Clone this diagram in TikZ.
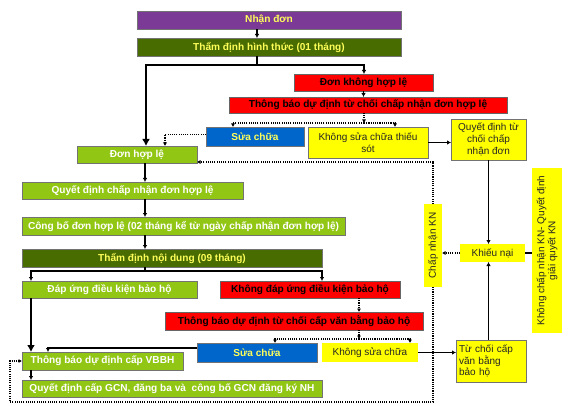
\documentclass[tikz,border=0pt]{standalone}
\usepackage{fontspec}
\setmainfont{Liberation Sans}
\usetikzlibrary{arrows.meta}
\definecolor{cpurple}{RGB}{122,58,150}
\definecolor{cdkgreen}{RGB}{72,108,0}
\definecolor{cltgreen}{RGB}{146,198,20}
\definecolor{cred}{RGB}{255,0,0}
\definecolor{cblue}{RGB}{0,102,204}
\definecolor{cyellow}{RGB}{255,255,0}
\definecolor{ctxtyellow}{RGB}{255,255,90}
\begin{document}
\begin{tikzpicture}[x=1pt,y=-1pt,
  font=\fontsize{10}{12.8}\selectfont,
  base/.style={inner sep=0pt, outer sep=0pt, align=center},
  bx/.style={base, draw=black!55, line width=0.6pt},
  bfont/.style={font=\fontsize{10.1}{12}\selectfont\bfseries},
  purplebox/.style={bx, fill=cpurple, text=ctxtyellow, bfont},
  dkbox/.style={bx, fill=cdkgreen, text=ctxtyellow, bfont},
  ltbox/.style={bx, fill=cltgreen, text=white, bfont},
  redbox/.style={bx, draw=black!60, fill=cred, text=black, bfont},
  bluebox/.style={bx, fill=cblue, text=ctxtyellow, bfont},
  ybox/.style={bx, fill=cyellow, text=black!85},
  ynob/.style={base, fill=cyellow, text=black!85},
  arr/.style={line width=1.1pt, -{Latex[length=4pt,width=4.5pt]}},
  bigarr/.style={line width=1.8pt, -{Latex[length=7pt,width=8pt]}},
  plain/.style={line width=1.1pt},
  dotl/.style={line width=1.1pt, dash pattern=on 1.1pt off 1.1pt},
  dotarr/.style={dotl, -{Latex[length=3.5pt,width=4pt]}}
]
\useasboundingbox (0,0) rectangle (583,406);

% boxes
\node[purplebox, minimum width=264, minimum height=18] (nhan) at (269,20) {Nhận đơn};
\node[dkbox, minimum width=264, minimum height=18] (thamhinh) at (269,47) {Thẩm định hình thức (01 tháng)};
\node[redbox, minimum width=139, minimum height=17] (khonghople) at (363.5,82.5) {Đơn không hợp lệ};
\node[redbox, minimum width=278, minimum height=16] (tbtuchoi1) at (368,105) {Thông báo dự định từ chối chấp nhận đơn hợp lệ};
\node[bluebox, minimum width=98, minimum height=19] (suachua1) at (255,136.5) {Sửa chữa};
\node[ybox, minimum width=120, minimum height=31, font=\fontsize{10}{12}\selectfont] (khongsua1) at (368,142.5) {Không sửa chữa thiếu\\sót};
\node[ybox, minimum width=75, minimum height=41, font=\fontsize{10}{12.3}\selectfont] (qdtuchoi) at (488.5,139.5) {Quyết định từ\\chối chấp\\nhận đơn};
\node[ltbox, minimum width=120, minimum height=17] (donhople) at (137,154.5) {Đơn hợp lệ};
\node[ltbox, minimum width=221, minimum height=17] (qdchapnhan) at (132.5,190.5) {Quyết định chấp nhận đơn hợp lệ};
\node[ltbox, minimum width=323, minimum height=18] (congbo) at (183.5,226) {Công bố đơn hợp lệ (02 tháng kể từ ngày chấp nhận đơn hợp lệ)};
\node[dkbox, minimum width=300, minimum height=18] (thamnoidung) at (172,258) {Thẩm định nội dung (09 tháng)};
\node[ltbox, minimum width=175, minimum height=17] (dapung) at (109.5,289.5) {Đáp ứng điều kiện bảo hộ};
\node[redbox, minimum width=180, minimum height=17] (khongdapung) at (310,289.5) {Không đáp ứng điều kiện bảo hộ};
\node[redbox, minimum width=258, minimum height=18] (tbtuchoi2) at (294,321) {Thông báo dự định từ chối cấp văn bằng bảo hộ};
\node[bluebox, minimum width=120, minimum height=19] (suachua2) at (257,352.5) {Sửa chữa};
\node[ynob, minimum width=96, minimum height=19] (khongsua2) at (370,352.5) {Không sửa chữa};
\node[ybox, minimum width=70, minimum height=42, align=left, text width=64, font=\fontsize{10}{11.5}\selectfont] (tuchoicap) at (491,361) {Từ chối cấp\\văn bằng\\bảo hộ};
\node[ynob, minimum width=65, minimum height=18] (khieunai) at (492.5,253) {Khiếu nại};
\node[ynob, minimum width=18, minimum height=83] (chapnhankn) at (433,245.5) {};
\node[base, rotate=90, text=black!85] (chapnhankntxt) at (chapnhankn.center) {Chấp nhận KN};
\node[ynob, minimum width=30, minimum height=165] (khongchapnhan) at (547,250.5) {};
\node[base, rotate=90, text=black!85, font=\fontsize{10}{11}\selectfont] (khongchapnhantxt) at (khongchapnhan.center) {Không chấp nhận KN- Quyết định\\giải quyết KN};
\node[ltbox, minimum width=161, minimum height=18] (tbcap) at (102.5,361) {Thông báo dự định cấp VBBH};
\node[ltbox, minimum width=300, minimum height=17] (qdcap) at (172,388.5) {Quyết định cấp GCN, đăng ba và\ \ công bố GCN đăng ký NH};

% coordinates
\coordinate (j1) at (257,65);
\coordinate (d1) at (364,123);
\coordinate (j2) at (145,271);
\coordinate (d2) at (359,339);
\coordinate (lp) at (10,402);

% connectors (top part)
\draw[arr] ([xshift=-12]nhan.south) -- ([xshift=-12]thamhinh.north);
\draw[plain] ([xshift=-12]thamhinh.south) -- (j1);
\draw[bigarr] (j1) -| ([xshift=9]donhople.north);
\draw[arr] (j1) -| ([xshift=0.5]khonghople.north);
\draw[arr] (khonghople.south) -- (khonghople.south |- tbtuchoi1.north);
\draw[dotarr] ([xshift=-4]tbtuchoi1.south) -- (d1);
\draw[dotarr] (d1) -| ([xshift=-22]suachua1.north);
\draw[dotarr] (d1) -| ([xshift=27]khongsua1.north);
\draw[dotarr] ([yshift=2]suachua1.west) -| ([xshift=28]donhople.north);
\draw[arr] (khongsua1.east) -- (khongsua1.east -| qdtuchoi.west);
\draw[arr] (qdtuchoi.south) -- (qdtuchoi.south |- khieunai.north);
\draw[arr] (tuchoicap.north -| qdtuchoi.south) -- (qdtuchoi.south |- khieunai.south);
\draw[dotarr] (khieunai.west) -- (chapnhankn.east |- khieunai.west);
\draw[line width=2pt] (khieunai.east) -- (khieunai.east -| khongchapnhan.west);
\draw[dotarr] (chapnhankn.north) |- ([yshift=1]donhople.south east);

% middle / bottom
\draw[arr] ([xshift=8]donhople.south) -- ([xshift=8]donhople.south |- qdchapnhan.north);
\draw[arr] ([xshift=12.5]qdchapnhan.south) -- ([xshift=12.5]qdchapnhan.south |- congbo.north);
\draw[arr] ([xshift=-38.5]congbo.south) -- ([xshift=-38.5]congbo.south |- thamnoidung.north);
\draw[plain] ([xshift=-27]thamnoidung.south) -- (j2);
\draw[arr] (j2) -| ([xshift=-78.5]dapung.north);
\draw[arr] (j2) -| ([xshift=12]khongdapung.north);
\draw[dotarr] ([xshift=49]khongdapung.south) -- ([xshift=49]khongdapung.south |- tbtuchoi2.north);
\draw[dotarr] ([xshift=65]tbtuchoi2.south) -- (d2);
\draw[dotarr] (d2) -| ([xshift=18]suachua2.north);
\draw[dotarr] (d2) -| ([xshift=40]khongsua2.north);
\draw[arr] (khongsua2.east) -- (khongsua2.east -| tuchoicap.west);
\draw[arr] ([yshift=4.5]suachua2.west) -| ([xshift=-54.5]tbcap.north);
\draw[bigarr] ([xshift=-78.5]dapung.south) -- ([xshift=-71.5]tbcap.north);
\draw[arr] ([xshift=-71.5]tbcap.south) -- ([xshift=-141]qdcap.north);
\draw[dotarr] (chapnhankn.south) |- (lp) |- (tbcap.west);
\end{tikzpicture}
\end{document}
